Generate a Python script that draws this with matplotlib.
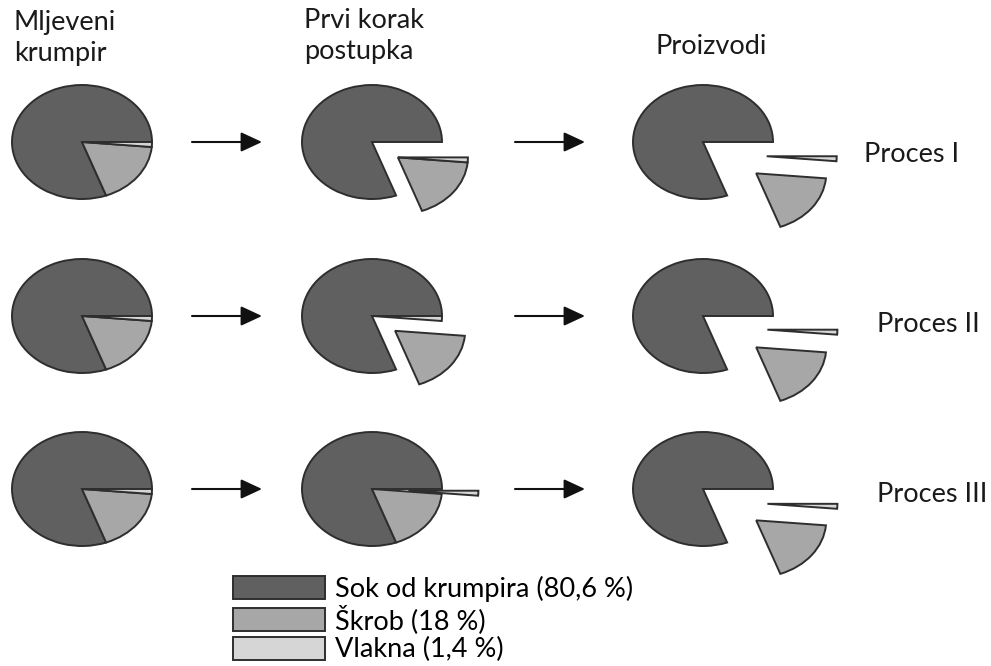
import matplotlib.pyplot as plt

plt.rcParams['font.family'] = ['Lato', 'DejaVu Sans']

W, H = 991, 666
RX, RY = 70, 57          # pie radii in pixels (pies are drawn slightly oval)

labels = ['Sok od krumpira (80,6 %)', 'Škrob (18 %)', 'Vlakna (1,4 %)']
shares = [80.6, 18.0, 1.4]
colors = ['#606060', '#a7a7a7', '#d6d6d6']

col_titles = ['Mljeveni\nkrumpir', 'Prvi korak\npostupka', 'Proizvodi']
row_titles = ['Proces I', 'Proces II', 'Proces III']

# pie centres (pixels)
col_x = [82, 372, 703]
row_y = [142, 316, 489]

# how far each slice (juice, starch, fibre) is pulled out, in radius units
shifts = [
    [[(0, 0), (0, 0), (0, 0)],
     [(0, 0), (0.37, -0.27), (0.37, -0.27)],
     [(0, 0), (0.76, -0.55), (0.91, -0.25)]],
    [[(0, 0), (0, 0), (0, 0)],
     [(0, 0), (0.33, -0.26), (0, 0)],
     [(0, 0), (0.76, -0.55), (0.92, -0.24)]],
    [[(0, 0), (0, 0), (0, 0)],
     [(0, 0), (0, 0), (0.52, -0.03)],
     [(0, 0), (0.76, -0.55), (0.92, -0.26)]],
]


def P(px, py):
    return px / RX, (H - py) / RY


fig = plt.figure(figsize=(W / 100, H / 100), dpi=100)
ax = fig.add_axes([0, 0, 1, 1])

handles = None
for r, cy in enumerate(row_y):
    for c, cx in enumerate(col_x):
        x0, y0 = P(cx, cy)
        wedges, _ = ax.pie(shares, colors=colors, startangle=0, radius=1,
                           center=(x0, y0),
                           wedgeprops=dict(edgecolor='#2e2e2e', linewidth=1.4))
        for w, (dx, dy) in zip(wedges, shifts[r][c]):
            w.set_center((x0 + dx, y0 + dy))
        if handles is None:
            handles = wedges

    # arrows between the columns
    for xa, xb in [(192, 262), (515, 585)]:
        ax.annotate('', xy=P(xb, cy), xytext=P(xa, cy),
                    arrowprops=dict(arrowstyle='-|>,head_length=0.43,head_width=0.2',
                                    mutation_scale=30, lw=1.5, color='#111111',
                                    shrinkA=0, shrinkB=0))

ax.set_xlim(0, W / RX)
ax.set_ylim(0, H / RY)
ax.set_aspect('auto')
ax.axis('off')

fs = 19.5
for (px, py), t in zip([(14, 10), (304, 8), (655, 34)], col_titles):
    ax.text(*P(px, py), t, fontsize=fs, va='top', ha='left', linespacing=1.3, color='#1a1a1a')

for (px, py), t in zip([(864, 155), (877, 325), (877, 495)], row_titles):
    ax.text(*P(px, py), t, fontsize=fs, va='center', ha='left', color='#1a1a1a')

fig.legend(handles, labels, loc='upper left', bbox_to_anchor=(233 / W, 1 - 576 / H),
           frameon=False, fontsize=fs, handlelength=3.4, handleheight=0.95,
           handletextpad=0.37, labelspacing=0.1, borderpad=0, borderaxespad=0)

fig.savefig('out.png', dpi=100, facecolor='white')
